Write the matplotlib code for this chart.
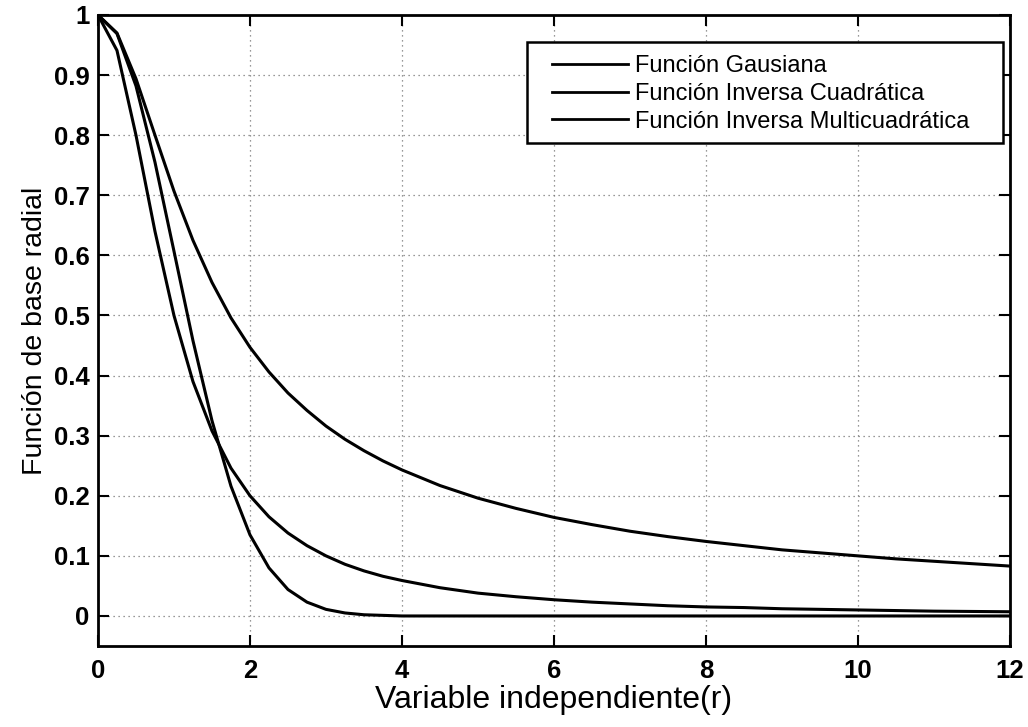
import numpy as np
import matplotlib
matplotlib.use('Agg')
import matplotlib.pyplot as plt
from matplotlib.patches import Rectangle

# valores
r = [0, 0.25, 0.5, 0.75, 1, 1.25, 1.5, 1.75, 2, 2.25, 2.5, 2.75, 3, 3.25, 3.5, 3.75, 4,
     4.5, 5, 5.5, 6, 6.5, 7, 7.5, 8, 8.5, 9, 9.5, 10, 10.5, 11, 11.5, 12]

gaus = [1, 0.969, 0.882, 0.755, 0.607, 0.458, 0.325, 0.216, 0.135, 0.080, 0.044, 0.023,
        0.011, 0.005, 0.002, 0.001, 0.0, 0, 0, 0, 0, 0, 0, 0, 0, 0, 0, 0, 0, 0, 0, 0, 0]

inv_cuad = [1, 0.941, 0.800, 0.640, 0.500, 0.390, 0.308, 0.246, 0.200, 0.165, 0.138, 0.117,
            0.100, 0.086, 0.075, 0.066, 0.059, 0.047, 0.038, 0.032, 0.027, 0.023, 0.020,
            0.017, 0.015, 0.014, 0.012, 0.011, 0.010, 0.009, 0.008, 0.0075, 0.007]

inv_multi = [1, 0.970, 0.894, 0.800, 0.707, 0.625, 0.555, 0.496, 0.447, 0.406, 0.371, 0.342,
             0.316, 0.294, 0.275, 0.258, 0.243, 0.217, 0.196, 0.179, 0.164, 0.152, 0.141,
             0.132, 0.124, 0.117, 0.110, 0.105, 0.100, 0.095, 0.091, 0.087, 0.083]

etiquetas = ['Función Gausiana', 'Función Inversa Cuadrática', 'Función Inversa Multicuadrática']

plt.rcParams['font.family'] = ['Liberation Sans', 'DejaVu Sans']

fig = plt.figure(figsize=(10.28, 7.27), dpi=100)
ax = fig.add_axes([0.0953, 0.1114, 0.8872, 0.868])

for y, lab in zip([gaus, inv_cuad, inv_multi], etiquetas):
    ax.plot(r, y, color='black', lw=2.2, label=lab)

ax.set_xlim(0, 12)
ax.set_ylim(-0.05, 1)
ax.set_xticks(np.arange(0, 13, 2))
ax.set_yticks(np.arange(0, 1.01, 0.1))
ax.set_yticklabels(['0', '0.1', '0.2', '0.3', '0.4', '0.5', '0.6', '0.7', '0.8', '0.9', '1'])

ax.grid(True, color='#777777', linestyle=(0, (1, 3)), lw=0.9)
for s in ax.spines.values():
    s.set_linewidth(2.0)
ax.tick_params(direction='in', length=8, width=1.5, top=True, right=True, labelsize=18.5)
ax.tick_params(axis='x', pad=9)
ax.tick_params(axis='y', pad=6)
for t in ax.get_xticklabels() + ax.get_yticklabels():
    t.set_fontweight('bold')

ax.set_xlabel('Variable independiente(r)', fontsize=23, labelpad=2)
ax.set_ylabel('Función de base radial', fontsize=20.5, labelpad=4)

# caja de la leyenda (estilo Matlab, con margen a la derecha)
caja = Rectangle((0.470, 0.797), 0.522, 0.160, transform=ax.transAxes,
                 facecolor='white', edgecolor='black', lw=1.8, zorder=4)
ax.add_patch(caja)

leg = ax.legend(loc='upper left', bbox_to_anchor=(0.498, 0.936), fontsize=17,
                frameon=False, handlelength=3.2, borderpad=0, labelspacing=0.24,
                handletextpad=0.3, borderaxespad=0)
leg.set_zorder(5)
for line in leg.get_lines():
    line.set_linewidth(2.0)

fig.savefig('out.png', dpi=100)
